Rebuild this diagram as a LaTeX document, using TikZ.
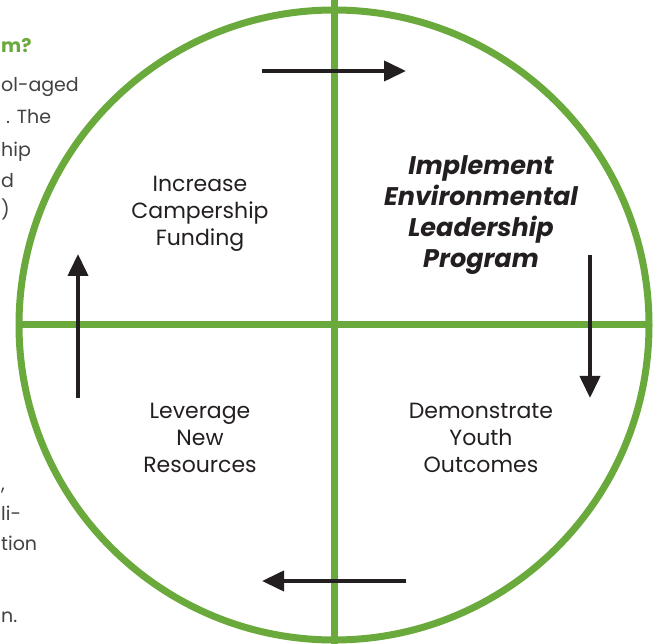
\documentclass[tikz,border=0pt]{standalone}
\usepackage{fontspec}
\setmainfont{Poppins}
\usetikzlibrary{arrows.meta}
\definecolor{ringgreen}{RGB}{106,170,60}
\definecolor{arrowblack}{RGB}{35,31,32}
\definecolor{textgray}{RGB}{65,64,66}

\begin{document}
\begin{tikzpicture}[x=1pt,y=-1pt,
	cyclearrow/.style={arrowblack, line width=4pt, -{Triangle[length=22pt,width=20pt]}},
	steplabel/.style={align=center, text=arrowblack, font=\fontsize{22}{27}\selectfont},
	pagetext/.style={anchor=base west, inner sep=0pt, text=textgray, font=\fontsize{19}{32}\selectfont}]
	\clip (0,0) rectangle (659,644);
	% left-over page text on the left
	\node[pagetext, text=ringgreen, font=\bfseries\fontsize{19}{32}\selectfont] (q) at (1,53) {m?};
	\node[pagetext] (t1) at (1,92) {ol-aged};
	\node[pagetext] (t2) at (6,124) {. The};
	\node[pagetext] (t3) at (1,157) {hip};
	\node[pagetext] (t4) at (1,188) {d};
	\node[pagetext] (t5) at (1,217) {)};
	\node[pagetext] (t6) at (1,490) {,};
	\node[pagetext] (t7) at (1,520) {li-};
	\node[pagetext] (t8) at (1,550) {tion};
	\node[pagetext] (t9) at (1,622) {n.};
	% ring and cross
	\draw [ringgreen, line width=7pt] (334,325) circle [radius=315];
	\draw [ringgreen, line width=7pt] (334,0) -- (334,644);
	\draw [ringgreen, line width=7pt] (19,325) -- (649,325);
	% quadrants
	\node[steplabel] (fund) at (200,214) {Increase\\Campership\\Funding};
	\node[steplabel, font=\bfseries\itshape\fontsize{25.5}{31}\selectfont] (implement) at (481,215) {Implement\\Environmental\\Leadership\\Program};
	\node[steplabel] (outcomes) at (481,438) {Demonstrate\\Youth\\Outcomes};
	\node[steplabel] (resources) at (200,438) {Leverage\\New\\Resources};
	% cycle arrows
	\coordinate (topstart) at (262,71);
	\coordinate (topend) at (406,71);
	\coordinate (rightstart) at (590,255);
	\coordinate (rightend) at (590,398);
	\coordinate (bottomstart) at (406,581);
	\coordinate (bottomend) at (262,581);
	\coordinate (leftstart) at (78,398);
	\coordinate (leftend) at (78,254);
	\draw [cyclearrow] (topstart) -- (topend);
	\draw [cyclearrow] (rightstart) -- (rightend);
	\draw [cyclearrow] (bottomstart) -- (bottomend);
	\draw [cyclearrow] (leftstart) -- (leftend);
\end{tikzpicture}
\end{document}
